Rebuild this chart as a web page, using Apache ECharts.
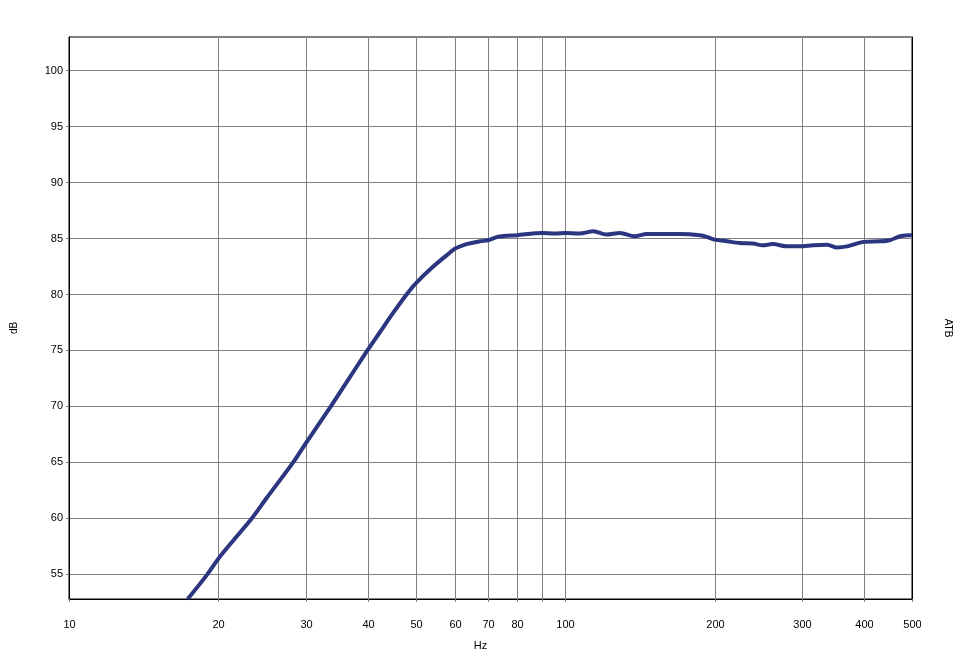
<!DOCTYPE html>
<html>
<head>
<meta charset="utf-8">
<script src="https://cdn.jsdelivr.net/npm/echarts@6/dist/echarts.min.js"></script>
<style>html,body{margin:0;padding:0;background:#fff;}#c{width:962px;height:658px;}</style>
</head>
<body>
<div id="c"></div>
<script>
const freqs = [17.35, 19, 20, 21.5, 23.35, 25, 28.3, 30, 33.7, 36, 40, 42.35, 45, 47.9, 50, 54.2, 58.6, 60, 63.3, 67.3, 70, 73.2, 80, 90, 95.4, 100, 107, 114, 121, 129, 138, 146, 160, 170, 187, 193, 200, 212, 225, 239, 250, 262, 280, 297, 316, 337, 353, 370, 400, 431, 451, 473, 495, 500];
const levels = [52.8, 55.0, 56.4, 58.1, 60.0, 61.8, 65.0, 66.7, 70.0, 71.95, 75.05, 76.65, 78.35, 80.0, 81.0, 82.5, 83.75, 84.1, 84.5, 84.75, 84.85, 85.15, 85.3, 85.5, 85.45, 85.5, 85.45, 85.65, 85.35, 85.5, 85.2, 85.4, 85.4, 85.4, 85.3, 85.15, 84.9, 84.75, 84.6, 84.55, 84.4, 84.5, 84.3, 84.3, 84.4, 84.45, 84.2, 84.3, 84.7, 84.75, 84.85, 85.2, 85.3, 85.3];
const xTicks = [10, 20, 30, 40, 50, 60, 70, 80, 90, 100, 200, 300, 400, 500];
const xTickLabels = ['10', '20', '30', '40', '50', '60', '70', '80', '', '100', '200', '300', '400', '500'];
const xName = 'Hz';
const yName = 'dB';
const y2Name = 'ATB';

const chart = echarts.init(document.getElementById('c'));
const FONT = 'Liberation Sans, Arial, sans-serif';
const yMin = 52.8, yMax = 103;

chart.setOption({
  animation: false,
  backgroundColor: '#fff',
  grid: { left: 69, right: 50, top: 37, bottom: 59, show: true, borderColor: '#000', borderWidth: 1, backgroundColor: '#fff' },
  xAxis: {
    type: 'log', logBase: 10, min: 10, max: 500,
    name: xName, nameLocation: 'middle', nameGap: 41,
    nameTextStyle: { fontFamily: FONT, fontSize: 11, color: '#000', padding: [0, 20, 0, 0] },
    axisLine: { show: true, lineStyle: { color: '#000', width: 1 } },
    axisTick: { show: false }, axisLabel: { show: false }, splitLine: { show: false }
  },
  yAxis: [{
    type: 'value', min: yMin, max: yMax, splitNumber: 10,
    name: yName, nameLocation: 'middle', nameGap: 50, nameRotate: 90,
    nameTextStyle: { fontFamily: FONT, fontSize: 10, color: '#000', padding: [0, 0, 0, -20] },
    axisLine: { show: true, lineStyle: { color: '#000', width: 1 } },
    axisTick: { show: true, length: 3, lineStyle: { color: '#808080' } },
    axisLabel: { show: true, margin: 6, fontFamily: FONT, fontSize: 11, color: '#000', showMinLabel: false, showMaxLabel: false },
    splitLine: { show: true, lineStyle: { color: '#808080', width: 1 } }
  }, {
    type: 'value', min: yMin, max: yMax, position: 'right',
    name: y2Name, nameLocation: 'middle', nameGap: 31, nameRotate: -90,
    nameTextStyle: { fontFamily: FONT, fontSize: 10, color: '#000', padding: [0, 0, 0, 20] },
    axisLine: { show: true, lineStyle: { color: '#000', width: 1 } },
    axisTick: { show: false }, axisLabel: { show: false }, splitLine: { show: false }
  }],
  series: [{
    type: 'custom',
    silent: true,
    clip: false,
    z: 1,
    data: xTicks.map((f, i) => [f, i]),
    renderItem: function (params, api) {
      const f = api.value(0);
      const i = api.value(1);
      const top = api.coord([f, yMax]);
      const bot = api.coord([f, yMin]);
      const x = Math.round(top[0]) + 0.5;
      const children = [];
      if (f !== 10 && f !== 500) {
        children.push({ type: 'line', shape: { x1: x, y1: top[1], x2: x, y2: bot[1] }, style: { stroke: '#808080', lineWidth: 1 } });
      }
      children.push({ type: 'line', shape: { x1: x, y1: bot[1], x2: x, y2: bot[1] + 3 }, style: { stroke: '#808080', lineWidth: 1 } });
      children.push({ type: 'text', style: { text: xTickLabels[i], x: x, y: bot[1] + 26, textAlign: 'center', textVerticalAlign: 'middle', fill: '#000', font: '11px ' + FONT } });
      return { type: 'group', children: children };
    }
  }, {
    type: 'line',
    z: 5,
    data: freqs.map((f, i) => [f, levels[i]]),
    showSymbol: false,
    smooth: 0.3,
    lineStyle: { color: '#2B3580', width: 4 },
    clip: true
  }]
});
</script>
</body>
</html>
